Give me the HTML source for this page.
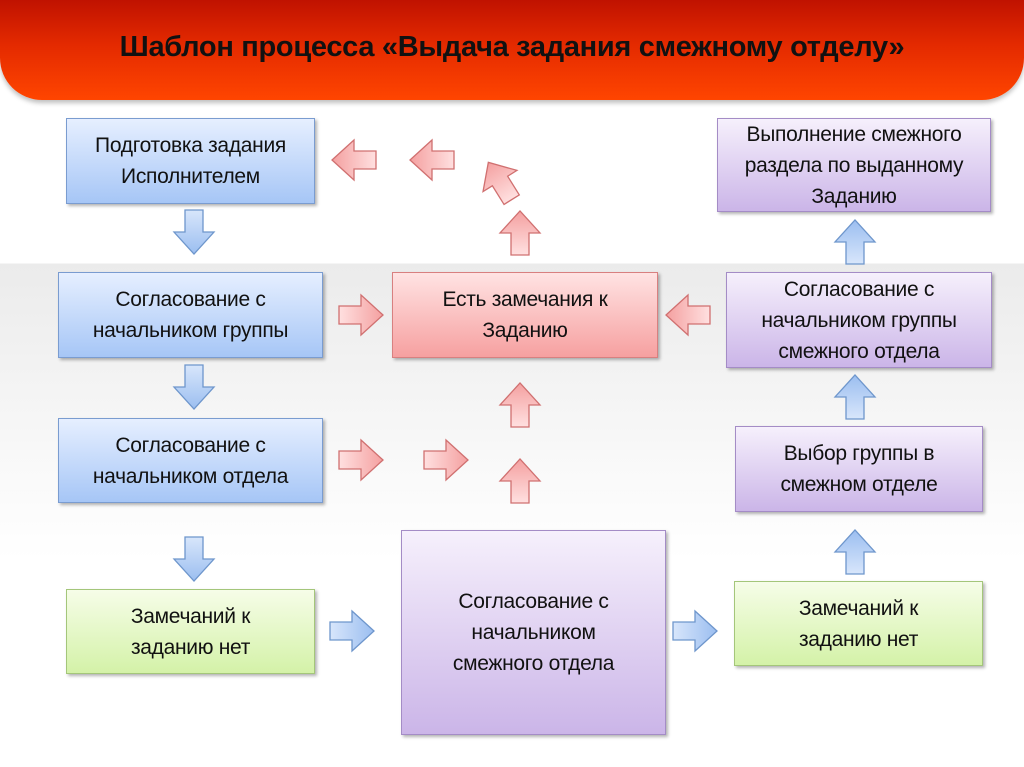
<!DOCTYPE html>
<html><head><meta charset="utf-8"><style>
body{margin:0;width:1024px;height:767px;position:relative;overflow:hidden;font-family:"Liberation Sans","DejaVu Sans",sans-serif;
background:linear-gradient(#fff 0,#fff 263px,#ebebeb 264px,#f6f6f6 420px,#fff 560px,#fff 767px);}
.hdr{position:absolute;left:0;top:0;width:1024px;height:100px;border-radius:0 0 42px 42px;
background:linear-gradient(#c01200,#e42a00 45%,#ff4500);box-shadow:0 3px 5px rgba(0,0,0,.25);}
.hdr div{position:absolute;top:31px;width:100%;text-align:center;font-weight:bold;font-size:29px;color:#111;letter-spacing:-0.3px}
.b{position:absolute;display:flex;align-items:center;justify-content:center;text-align:center;font-size:21px;line-height:31px;color:#111;box-sizing:border-box;box-shadow:2px 2px 3px rgba(0,0,0,.3);letter-spacing:-0.3px}
.bl{background:linear-gradient(#e6efff,#a6c6f6);border:1px solid #7a9cd0}
.gr{background:linear-gradient(#f6fde8,#d4f2a8);border:1px solid #a4c67a}
.pk{background:linear-gradient(#ffe3e3,#f6a0a0);border:1px solid #d88080}
.pu{background:linear-gradient(#f6f0fc,#cbb5e8);border:1px solid #a48cc6}
svg{position:absolute;left:0;top:0}
</style></head><body>
<div class="hdr"><div>Шаблон процесса «Выдача задания смежному отделу»</div></div>
<div class="b bl" style="left:66px;top:118px;width:249px;height:86px">Подготовка задания<br>Исполнителем</div>
<div class="b bl" style="left:58px;top:272px;width:265px;height:86px">Согласование с<br>начальником группы</div>
<div class="b bl" style="left:58px;top:418px;width:265px;height:85px">Согласование с<br>начальником отдела</div>
<div class="b gr" style="left:66px;top:589px;width:249px;height:85px">Замечаний к<br>заданию нет</div>
<div class="b pk" style="left:392px;top:272px;width:266px;height:86px">Есть замечания к<br>Заданию</div>
<div class="b pu" style="left:401px;top:530px;width:265px;height:205px">Согласование с<br>начальником<br>смежного отдела</div>
<div class="b gr" style="left:734px;top:581px;width:249px;height:85px">Замечаний к<br>заданию нет</div>
<div class="b pu" style="left:735px;top:426px;width:248px;height:86px">Выбор группы в<br>смежном отделе</div>
<div class="b pu" style="left:726px;top:272px;width:266px;height:96px">Согласование с<br>начальником группы<br>смежного отдела</div>
<div class="b pu" style="left:717px;top:118px;width:274px;height:94px">Выполнение смежного<br>раздела по выданному<br>Заданию</div>
<svg width="1024" height="767">
<defs>
<linearGradient id="gb" x1="0" y1="0" x2="1" y2="0"><stop offset="0" stop-color="#d8e6fb"/><stop offset="1" stop-color="#9bbef0"/></linearGradient>
<linearGradient id="gp" x1="0" y1="0" x2="1" y2="0"><stop offset="0" stop-color="#ffe0e0"/><stop offset="1" stop-color="#f4a0a0"/></linearGradient>
<g id="r"><polygon points="-22,-9 0,-9 0,-20 22,0 0,20 0,9 -22,9"/></g>
</defs>
<g fill="url(#gb)" stroke="#6e96cc" stroke-width="1.3">
<use href="#r" transform="translate(194,232) rotate(90)"/>
<use href="#r" transform="translate(194,387) rotate(90)"/>
<use href="#r" transform="translate(194,559) rotate(90)"/>
<use href="#r" transform="translate(855,242) rotate(-90)"/>
<use href="#r" transform="translate(855,397) rotate(-90)"/>
<use href="#r" transform="translate(855,552) rotate(-90)"/>
<use href="#r" transform="translate(352,631)"/>
<use href="#r" transform="translate(695,631)"/>
</g>
<g fill="url(#gp)" stroke="#d07070" stroke-width="1.3">
<use href="#r" transform="translate(361,315)"/>
<use href="#r" transform="translate(361,460)"/>
<use href="#r" transform="translate(446,460)"/>
<use href="#r" transform="translate(688,315) rotate(180)"/>
<use href="#r" transform="translate(354,160) rotate(180)"/>
<use href="#r" transform="translate(432,160) rotate(180)"/>
<use href="#r" transform="translate(520,233) rotate(-90)"/>
<use href="#r" transform="translate(520,405) rotate(-90)"/>
<use href="#r" transform="translate(520,481) rotate(-90)"/>
<use href="#r" transform="translate(500,181) rotate(-122)"/>
</g>
</svg>
</body></html>
